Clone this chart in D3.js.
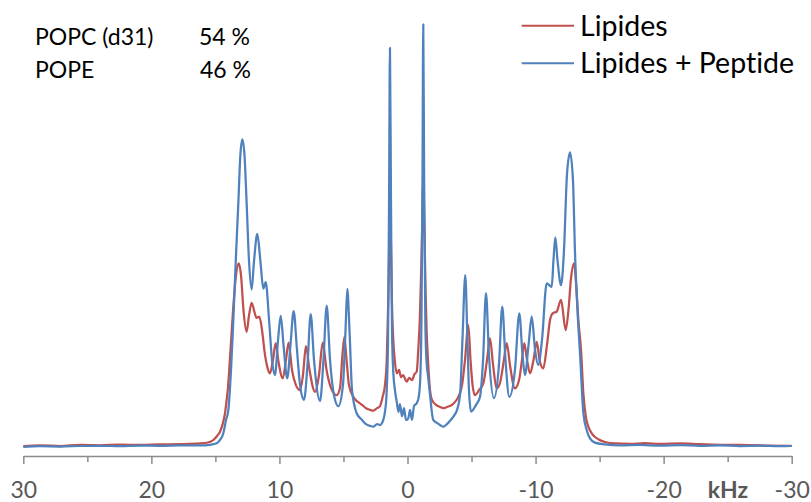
<!DOCTYPE html>
<html>
<head>
<meta charset="utf-8">
<script src="https://cdn.jsdelivr.net/npm/d3@7"></script>
<style>
  body { margin: 0; background: #fff; }
  text { font-family: Lato, "Open Sans", sans-serif; font-variant-ligatures: none; font-feature-settings: "liga" 0, "clig" 0; }
</style>
</head>
<body>
<svg id="chart"></svg>
<script>
// spectra: [kHz, intensity (a.u.)]
const lipides = [
  [30,0],[28.7,0.12],[27.13,0],[25.57,0.24],[24.01,0.17],[22.45,0.33],[20.89,0.24],[19.32,0.36],
  [17.76,0.43],[16.2,0.6],[15.58,0.83],[15.16,1.43],[14.87,2.38],[14.64,3.4],[14.41,5.5],[14.25,7.8],
  [14.12,11],[14.02,13.8],[13.82,22.9],[13.6,33.2],[13.39,40.7],[13.18,43.5],[13,40.7],[12.81,32.4],
  [12.56,27.2],[12.38,31],[12.17,34.1],[11.95,31.9],[11.79,30.5],[11.57,30.8],[11.36,27.6],[11.13,21.7],
  [10.93,18.6],[10.74,17.3],[10.5,20.5],[10.29,24.5],[10.07,20],[9.74,16.1],[9.49,20.5],[9.28,24.6],
  [9.02,18.1],[8.71,14.5],[8.39,13.3],[8.16,16.9],[7.93,23.8],[7.65,18.1],[7.22,12.9],[6.91,16.9],
  [6.62,24.6],[6.32,18.1],[5.97,13.8],[5.53,12.1],[5.27,13.8],[5.08,21.7],[4.93,25.9],[4.76,20.5],
  [4.57,14.5],[4.23,11.7],[3.87,10.5],[3.55,9.8],[3.24,9],[2.93,8.6],[2.67,8.4],[2.38,9],[2.15,9.5],
  [1.94,11.7],[1.76,14.5],[1.62,20.5],[1.5,34.8],[1.42,49],[1.37,60.2],[1.3,49],[1.22,34.8],[1.11,25.2],
  [0.98,20],[0.84,17.3],[0.66,18.1],[0.51,16.4],[0.35,16.9],[0.06,15.3],[-0.12,16.2],[-0.35,15.7],
  [-0.55,17.1],[-0.72,17.7],[-0.84,22.9],[-0.96,30],[-1.05,39.5],[-1.16,53.8],[-1.23,64.1],[-1.31,53.8],
  [-1.41,37.1],[-1.5,26.9],[-1.62,19.3],[-1.76,13.3],[-1.91,11],[-2.23,9.8],[-2.54,9.3],[-2.8,9],
  [-3.08,9.3],[-3.47,9.8],[-3.71,10.5],[-3.97,11.7],[-4.26,14.5],[-4.49,20.5],[-4.75,28.8],[-4.92,20.5],
  [-5.08,14.5],[-5.27,12.1],[-5.58,13.3],[-5.92,14.9],[-6.21,20.5],[-6.44,25.6],[-6.68,19.3],[-6.96,13.7],
  [-7.22,15],[-7.53,20.5],[-7.75,24.5],[-8,19.3],[-8.39,13.7],[-8.71,15.7],[-8.94,20.5],[-9.12,24.5],
  [-9.33,20.5],[-9.57,17.3],[-9.84,20.5],[-10.09,24.8],[-10.31,20.5],[-10.6,18.5],[-10.89,24],[-11.13,30],
  [-11.34,31.6],[-11.65,32],[-11.99,34.8],[-12.35,27.6],[-12.57,32.4],[-12.77,40],[-13,43.5],[-13.2,37.1],
  [-13.34,30],[-13.55,22.9],[-13.73,12.6],[-13.94,6.7],[-14.12,4.6],[-14.41,2.9],[-14.9,1.6],[-15.42,0.95],
  [-16.2,0.6],[-17.37,0.52],[-18.54,0.67],[-19.72,0.48],[-21.28,0.6],[-22.84,0.43],[-24.4,0.29],
  [-25.96,0.24],[-27.52,0.12],[-30,0.05]
];

const lipidesPeptide = [
  [30,-0.19],[28.7,-0.05],[27.13,-0.12],[25.57,0],[24.01,0.05],[22.45,-0.05],[20.89,0.1],[19.32,0.05],
  [17.76,0.17],[16.2,0.12],[15.42,0.29],[14.9,0.64],[14.64,1.43],[14.38,3.02],[14.17,6.19],[13.99,8.57],
  [13.78,18.1],[13.6,30],[13.39,45.5],[13.21,57.8],[13.05,69.3],[12.9,73],[12.73,69.3],[12.56,57.8],
  [12.38,44.3],[12.17,37.3],[11.99,43.8],[11.73,50.5],[11.48,43.8],[11.26,37.5],[11.07,39],[10.81,30],
  [10.58,20.5],[10.35,16.9],[10.11,25.2],[9.9,31],[9.68,24],[9.39,16.1],[9.14,24],[8.89,32.1],
  [8.63,22.9],[8.39,14.5],[8.08,11],[7.81,19.3],[7.56,31.4],[7.3,20.5],[6.83,10.7],[6.56,20.5],
  [6.31,33.4],[6.05,20.5],[5.74,12.1],[5.4,9.5],[5.04,14.5],[4.84,27.6],[4.7,37.4],[4.53,27.6],
  [4.33,13.3],[3.97,7.8],[3.55,6.2],[3.24,5.2],[2.93,4.8],[2.67,4.6],[2.38,5.2],[2.15,5],[1.89,6.2],
  [1.76,8.1],[1.64,12.1],[1.52,25.2],[1.44,58.6],[1.37,94.8],[1.29,58.6],[1.21,27.6],[1.11,17.6],
  [0.98,13.3],[0.84,10.5],[0.7,8.1],[0.59,10],[0.43,7.1],[0.27,9],[0.12,6.2],[-0.06,6.6],[-0.2,8.6],
  [-0.35,6.2],[-0.51,9.5],[-0.72,10.2],[-0.86,11.4],[-0.98,15],[-1.09,30],[-1.17,63.3],[-1.23,100.4],
  [-1.3,63.3],[-1.39,30],[-1.48,20.5],[-1.62,16.2],[-1.76,12.1],[-2.01,6.2],[-2.3,5.5],[-2.54,5],
  [-2.8,4.6],[-3.08,5.2],[-3.32,6],[-3.58,7],[-3.87,8.6],[-4.1,12.1],[-4.29,25.2],[-4.51,40.7],
  [-4.68,25.2],[-4.8,13.3],[-4.96,8.2],[-5.35,9.8],[-5.66,11.7],[-5.9,20.5],[-6.13,36.4],[-6.36,21.7],
  [-6.75,11.4],[-7.14,19.3],[-7.4,33.2],[-7.65,20.5],[-7.95,11.7],[-8.39,18.1],[-8.73,31.6],[-8.98,21.7],
  [-9.17,16.9],[-9.45,24],[-9.7,30.8],[-9.96,22.9],[-10.21,19.3],[-10.5,25.2],[-10.87,38.7],[-11.26,37.9],
  [-11.4,44.3],[-11.54,49.7],[-11.71,44.3],[-11.99,38.3],[-12.22,46.7],[-12.45,64.5],[-12.69,69.9],
  [-12.92,63.3],[-13.08,46],[-13.27,32.4],[-13.47,22.1],[-13.73,7.9],[-13.99,3.8],[-14.25,1.8],
  [-14.64,0.8],[-15.42,0.36],[-16.59,0.12],[-18.15,0.24],[-19.72,0.1],[-21.28,0.19],[-22.84,0.05],
  [-24.4,0.14],[-25.96,0],[-27.52,0.07],[-29.08,-0.05],[-30,0]
];

const seriesNames = ['Lipides', 'Lipides + Peptide'];
const seriesColors = ['#C0504D', '#4F81BD'];
const compNames = ['POPC (d31)', 'POPE'];
const compValues = ['54 %', '46 %'];
const tickValues = [30, 25, 20, 15, 10, 5, 0, -5, -10, -15, -20, -25, -30];

let width = 811, height = 502;
let svg = d3.select('#chart')
            .attr('width', width)
            .attr('height', height);

let x = d3.scaleLinear().domain([30, -30]).range([23.3, 791.7]);
let y = d3.scaleLinear().domain([0, 100]).range([446, 26]);

let line = d3.line()
             .x(d => x(d[0]))
             .y(d => y(d[1]))
             .curve(d3.curveMonotoneX);

// x axis
let axisY = 456;
let axis = d3.axisBottom(x)
             .tickValues(tickValues)
             .tickSize(8)
             .tickSizeOuter(0)
             .tickFormat(d => d % 10 === 0 ? String(d) : '');
let gAxis = svg.append('g')
               .attr('transform', `translate(0,${axisY})`)
               .call(axis);
gAxis.select('.domain').attr('stroke', '#8c8c8c').attr('stroke-width', 1.5);
gAxis.selectAll('.tick line')
     .attr('stroke', '#8c8c8c')
     .attr('stroke-width', 1.5)
     .attr('y2', d => d % 10 === 0 ? 8 : 6);
gAxis.selectAll('.tick text')
     .attr('y', 42)
     .attr('dy', 0)
     .attr('fill', '#595959')
     .style('font-size', '23px');

svg.append('text')
   .attr('x', 728)
   .attr('y', 498)
   .attr('text-anchor', 'middle')
   .attr('fill', '#595959')
   .style('font-size', '23px')
   .style('font-weight', 'bold')
   .text('kHz');

// spectra (blue on top)
[lipides, lipidesPeptide].forEach((data, i) => {
    svg.append('path')
       .datum(data)
       .attr('fill', 'none')
       .attr('stroke', seriesColors[i])
       .attr('stroke-width', 2.25)
       .attr('stroke-linejoin', 'round')
       .attr('d', line);
});

// composition note
compNames.forEach((name, i) => {
    let yy = 45 + i * 33;
    svg.append('text').attr('x', 35).attr('y', yy)
       .style('font-size', '23px').text(name);
    svg.append('text').attr('x', 199 + i).attr('y', yy)
       .style('font-size', '23px').text(compValues[i]);
});

// legend
seriesNames.forEach((name, i) => {
    let ly = 25.7 + i * 37.6;
    svg.append('line')
       .attr('x1', 521.7).attr('x2', 574)
       .attr('y1', ly).attr('y2', ly)
       .attr('stroke', seriesColors[i])
       .attr('stroke-width', 2);
    svg.append('text')
       .attr('x', 580).attr('y', ly + 10)
       .style('font-size', '28.5px')
       .text(name);
});
</script>
</body>
</html>
